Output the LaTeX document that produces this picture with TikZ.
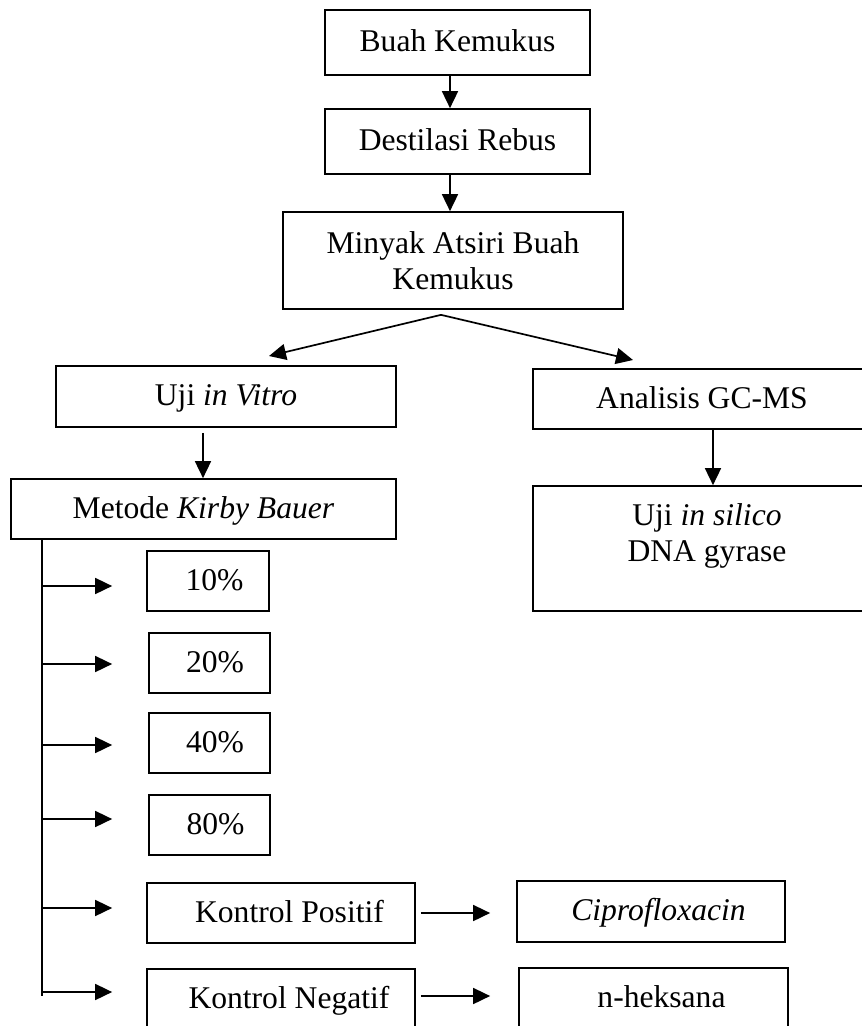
\documentclass[tikz,border=0pt]{standalone}
\usepackage{fontspec}
\setmainfont{Liberation Serif}
\usetikzlibrary{arrows.meta}
\begin{document}
\begin{tikzpicture}[x=1pt,y=-1pt,
  every node/.style={font=\fontsize{31.6pt}{36pt}\selectfont},
  box/.style={draw, line width=1.7pt, inner sep=0pt, text height=24.6pt, text depth=6.3pt},
  frame/.style={draw, line width=1.7pt, inner sep=0pt},
  plain/.style={inner sep=0pt},
  arr/.style={line width=1.7pt, -{Triangle[length=17pt,width=16pt]}},
  ln/.style={line width=1.7pt}]
\clip (0,0) rectangle (862,1026);
% top chain
\node[box, minimum width=265pt, minimum height=65pt] (bk) at (457.5,42.5) {Buah Kemukus};
\node[box, minimum width=265pt, minimum height=65pt] (dr) at (457.5,141.5) {Destilasi Rebus};
\node[frame, align=center, minimum width=340pt, minimum height=97pt] (mk) at (453,260.5) {Minyak Atsiri Buah\\Kemukus};
% second level
\node[box, minimum width=340pt, minimum height=61pt] (uv) at (226,396.5) {Uji \textit{in Vitro}};
\node[box, minimum width=354pt, minimum height=60pt] (gc) at (710,399) {Analisis GC-MS\hspace*{16pt}};
\node[box, minimum width=385pt, minimum height=60pt] (kb) at (203.5,509) {Metode \textit{Kirby Bauer}};
\node[frame, minimum width=354pt, minimum height=125pt] (sil) at (710,548.5) {};
\node[plain, align=center] (silt) at (707,536) {Uji \textit{in silico}\\DNA gyrase};
% concentrations
\node[box, minimum width=122pt, minimum height=60pt] (p10) at (208,581) {\hspace*{13pt}10\%};
\node[box, minimum width=121pt, minimum height=60pt] (p20) at (209.5,663) {\hspace*{11pt}20\%};
\node[box, minimum width=121pt, minimum height=60pt] (p40) at (209.5,743) {\hspace*{11pt}40\%};
\node[box, minimum width=121pt, minimum height=60pt] (p80) at (209.5,825) {\hspace*{12pt}80\%};
\node[box, minimum width=268pt, minimum height=60pt] (kp) at (281,913) {\hspace*{17pt}Kontrol Positif};
\node[box, minimum width=268pt, minimum height=60pt] (kn) at (281,999) {\hspace*{16pt}Kontrol Negatif};
\node[box, minimum width=268pt, minimum height=61pt] (cip) at (651,911.5) {\hspace*{15pt}\textit{Ciprofloxacin}};
\node[box, minimum width=269pt, minimum height=60pt] (nh) at (653.5,998) {\hspace*{16pt}n-heksana};
% connectors
\draw[arr] ([xshift=-7.5pt]bk.south) -- ([xshift=-7.5pt]dr.north);
\draw[arr] ([xshift=-7.5pt]dr.south) -- ([xshift=-7.5pt]dr.south |- mk.north);
\coordinate (split) at ([xshift=-12pt,yshift=-5pt]mk.south);
\coordinate (tipL) at (269,356);
\coordinate (tipR) at (633,360);
\draw[arr] (split) -- (tipL);
\draw[arr] (split) -- (tipR);
\draw[arr] ([xshift=-23pt,yshift=-5pt]uv.south) -- ([xshift=-23pt]uv.south |- kb.north);
\draw[arr] ([xshift=3pt]gc.south) -- ([xshift=3pt]gc.south |- sil.north);
\coordinate (trunkend) at (42,996);
\draw[ln] (kb.south -| trunkend) -- (trunkend);
\draw[arr] ([xshift=-105pt,yshift=-5pt]p10.west) -- ([xshift=-34pt,yshift=-5pt]p10.west);
\draw[arr] ([xshift=-107pt,yshift=-1pt]p20.west) -- ([xshift=-36pt,yshift=-1pt]p20.west);
\draw[arr] ([xshift=-107pt,yshift=-2pt]p40.west) -- ([xshift=-36pt,yshift=-2pt]p40.west);
\draw[arr] ([xshift=-107pt,yshift=6pt]p80.west) -- ([xshift=-36pt,yshift=6pt]p80.west);
\draw[arr] ([xshift=-105pt,yshift=5pt]kp.west) -- ([xshift=-34pt,yshift=5pt]kp.west);
\draw[arr] ([xshift=-105pt,yshift=7pt]kn.west) -- ([xshift=-34pt,yshift=7pt]kn.west);
\draw[arr] ([xshift=5pt]kp.east) -- ([xshift=-26pt]cip.west |- kp.east);
\draw[arr] ([xshift=5pt,yshift=3pt]kn.east) -- ([xshift=-28pt,yshift=3pt]nh.west |- kn.east);
\end{tikzpicture}
\end{document}
